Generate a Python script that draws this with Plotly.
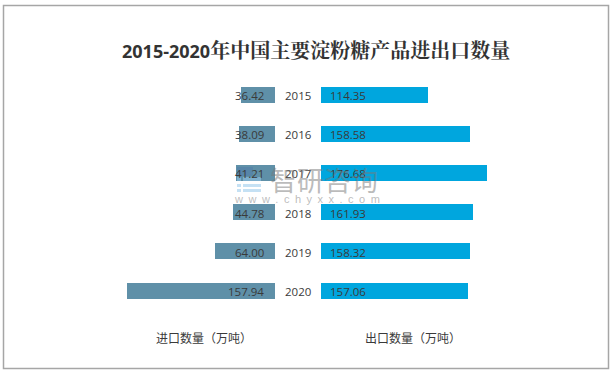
import plotly.graph_objects as go

W, H = 613, 374
years = [2015, 2016, 2017, 2018, 2019, 2020]
imports = [36.42, 38.09, 41.21, 44.78, 64.00, 157.94]
exports = [114.35, 158.58, 176.68, 161.93, 158.32, 157.06]
title_a = "2015-2020"
title_b = "年中国主要淀粉糖产品进出口数量"
import_label = "进口数量（万吨）"
export_label = "出口数量（万吨）"
CJK = "Noto Sans CJK SC"
TXT = "#3a3a3a"

fig = go.Figure()
fig.add_bar(y=years, x=imports, orientation="h", xaxis="x", yaxis="y",
            marker=dict(color="#5f90a8", line_width=0), width=0.41, showlegend=False)
fig.add_bar(y=years, x=exports, orientation="h", xaxis="x2", yaxis="y",
            marker=dict(color="#00a6de", line_width=0), width=0.41, showlegend=False)

px = 0.938
ytop, ybot = 75.4, 310.6
fig.update_layout(
    width=W, height=H, margin=dict(l=0, r=0, t=0, b=0),
    paper_bgcolor="white", plot_bgcolor="rgba(0,0,0,0)", bargap=0,
    font=dict(family="Liberation Sans, " + CJK, color=TXT, size=11),
    xaxis=dict(domain=[60 / W, 275 / W], range=[(275 - 60) / px, 0], visible=False),
    xaxis2=dict(domain=[321 / W, 553 / W], range=[0, (553 - 321) / px], visible=False, anchor="y"),
    yaxis=dict(domain=[1 - ybot / H, 1 - ytop / H], range=[2020.5, 2014.5], visible=False, type="linear"),
)

def note(**k):
    fig.add_annotation(showarrow=False, **k)

NUM = dict(size=11.5, color=TXT, family="Open Sans")
for y, a, b in zip(years, imports, exports):
    note(x=0, y=y, xref="x", yref="y", text=f"{a:.2f}", xanchor="right", xshift=-9, yshift=-0.5, font=NUM)
    note(x=0, y=y, xref="x2", yref="y", text=f"{b:.2f}", xanchor="left", xshift=7, yshift=-0.5, font=NUM)
    note(x=298 / W, y=y, xref="paper", yref="y", text=str(y), xanchor="center", yshift=-0.5, font=NUM)

title = (f'<b><span style="font-family:Open Sans;font-size:18px">{title_a}</span>'
         f'<span style="font-size:20px">{title_b}</span></b>')
note(x=316 / W, y=1 - 49.5 / H, xref="paper", yref="paper", text=title,
     xanchor="center", yanchor="middle", font=dict(size=20, color="#333333", family="Noto Serif CJK SC, " + CJK))
note(x=204 / W, y=1 - 337 / H, xref="paper", yref="paper", text=import_label,
     xanchor="center", yanchor="middle", font=dict(size=12, color=TXT, family=CJK))
note(x=413 / W, y=1 - 337 / H, xref="paper", yref="paper", text=export_label,
     xanchor="center", yanchor="middle", font=dict(size=12, color=TXT, family=CJK))

# watermark
note(x=323.5 / W, y=1 - 180 / H, xref="paper", yref="paper", text="智研咨询", xanchor="center", yanchor="middle",
     font=dict(size=27, color="rgba(120,120,120,0.5)", family=CJK))
sp = "\u2002"
note(x=306.5 / W, y=1 - 199 / H, xref="paper", yref="paper", text=sp.join("www.chyxx.com"), xanchor="center", yanchor="middle",
     font=dict(size=11, color="rgba(120,120,120,0.5)", family="Liberation Sans"))

def pix_rect(x0, y0, x1, y1, color):
    fig.add_shape(type="rect", xref="paper", yref="paper", x0=x0 / W, x1=x1 / W, y0=1 - y1 / H, y1=1 - y0 / H,
                  line_width=0, fillcolor=color)

pix_rect(237, 167, 253, 176, "rgba(70,110,170,0.3)")
for top, bottom in [(177, 181), (184, 187), (189, 192)]:
    pix_rect(243, top, 261, bottom, "rgba(150,200,235,0.55)")
    pix_rect(237, top, 241, bottom, "rgba(150,200,235,0.55)")

fig.add_shape(type="rect", xref="paper", yref="paper", x0=3.5 / W, x1=608.5 / W, y0=1 - 368.5 / H, y1=1 - 5.5 / H,
              line=dict(color="#a6a6a6", width=1.5), fillcolor="rgba(0,0,0,0)")

fig.write_html("out.html", config=dict(displayModeBar=False),
               post_script="document.body.style.margin='0';")
